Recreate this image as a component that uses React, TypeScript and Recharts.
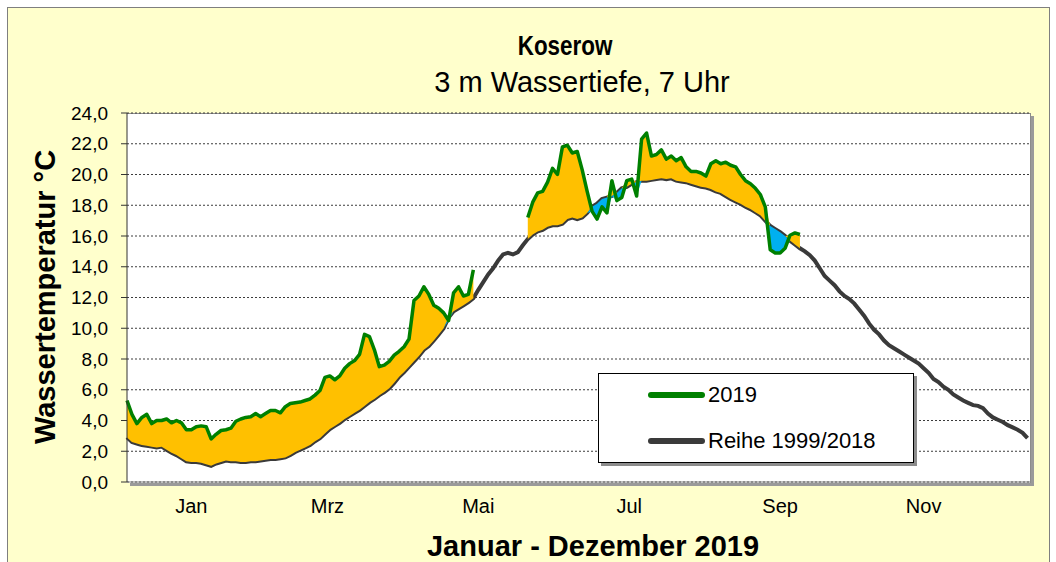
import {
  ComposedChart,
  Line,
  Area,
  XAxis,
  YAxis,
  CartesianGrid,
  Legend,
} from 'recharts';

// Tageswerte im 2-Tage-Raster (Index * 2 = Tag des Jahres)
const DAY_STEP = 2;

// Reihe 1999/2018, Wassertemperatur in °C
const meanTemps = [
  2.9, 2.6, 2.5, 2.4, 2.35, 2.3, 2.25, 2.3, 2.1, 1.9,
  1.75, 1.55, 1.35, 1.3, 1.3, 1.25, 1.15, 1.05, 1.2, 1.3,
  1.4, 1.35, 1.35, 1.3, 1.3, 1.35, 1.35, 1.4, 1.45, 1.5,
  1.5, 1.55, 1.6, 1.75, 1.95, 2.1, 2.25, 2.4, 2.65, 2.85,
  3.15, 3.45, 3.65, 3.85, 4.1, 4.3, 4.5, 4.7, 4.95, 5.2,
  5.4, 5.65, 5.85, 6.1, 6.45, 6.85, 7.15, 7.5, 7.85, 8.2,
  8.6, 8.85, 9.2, 9.6, 10.0, 10.7, 11.1, 11.3, 11.5, 11.7,
  11.95, 12.5, 13.0, 13.5, 13.9, 14.4, 14.8, 14.9, 14.8, 14.95,
  15.4, 15.8, 16.1, 16.3, 16.4, 16.6, 16.7, 16.7, 16.8, 17.1,
  17.2, 17.1, 17.2, 17.5, 17.9, 18.1, 18.4, 18.5, 18.6, 18.8,
  19.1, 19.2, 19.4, 19.5, 19.6, 19.6, 19.65, 19.7, 19.75, 19.7,
  19.75, 19.6, 19.55, 19.5, 19.4, 19.3, 19.2, 19.15, 19.05, 18.9,
  18.8, 18.6, 18.4, 18.25, 18.1, 17.9, 17.75, 17.55, 17.35, 17.0,
  16.65, 16.45, 16.25, 16.0, 15.7, 15.45, 15.2, 15.0, 14.75, 14.4,
  13.9, 13.4, 13.1, 12.8, 12.4, 12.1, 11.9, 11.6, 11.2, 10.8,
  10.3, 9.9, 9.6, 9.2, 8.9, 8.7, 8.5, 8.3, 8.1, 7.9,
  7.7, 7.4, 7.1, 6.7, 6.5, 6.2, 6.0, 5.7, 5.5, 5.3,
  5.15, 5.0, 4.95, 4.8, 4.45, 4.2, 4.05, 3.9, 3.7, 3.55,
  3.4, 3.2, 2.85,
];

// 2019, Wassertemperatur in °C (null = keine Messung)
const temps2019 = [
  5.3, 4.4, 3.8, 4.2, 4.4, 3.8, 4.0, 4.0, 4.1, 3.85,
  4.0, 3.85, 3.4, 3.4, 3.6, 3.65, 3.6, 2.8, 3.1, 3.35,
  3.4, 3.5, 3.95, 4.1, 4.2, 4.25, 4.45, 4.25, 4.45, 4.65,
  4.65, 4.5, 4.9, 5.1, 5.15, 5.2, 5.3, 5.4, 5.65, 5.95,
  6.8, 6.9, 6.65, 6.9, 7.4, 7.7, 7.9, 8.3, 9.6, 9.45,
  8.6, 7.5, 7.6, 7.85, 8.25, 8.5, 8.8, 9.3, 11.8, 12.1,
  12.7, 12.2, 11.5, 11.3, 11.0, 10.5, 12.3, 12.7, 12.1, 12.2,
  13.8, null, null, null, null, null, null, null, null, null,
  null, 17.2, 18.2, 18.8, 18.9, 19.5, 20.4, 20.0, 21.8, 21.9,
  21.4, 21.5, 20.3, 18.9, 17.6, 17.1, 17.9, 17.5, 19.6, 18.3,
  18.5, 19.6, 19.7, 18.6, 22.3, 22.7, 21.2, 21.3, 21.6, 21.0,
  21.2, 20.9, 21.1, 20.5, 20.2, 20.2, 20.1, 19.9, 20.7, 20.9,
  20.7, 20.8, 20.6, 20.5, 20.0, 19.6, 19.4, 19.1, 18.7, 17.9,
  15.1, 14.9, 14.9, 15.2, 16.05, 16.2, 16.1,
];

const monthTickDays = [26, 81, 142, 203, 264, 322];
const monthLabels = ['Jan', 'Mrz', 'Mai', 'Jul', 'Sep', 'Nov'];
const yTicks = [0, 2, 4, 6, 8, 10, 12, 14, 16, 18, 20, 22, 24];

const FONT = "'Liberation Sans', Arial, sans-serif";

const chartData = meanTemps.map((mean, i) => {
  const v = temps2019[i] ?? null;
  return {
    day: i * DAY_STEP,
    mean,
    t2019: v,
    above: v == null ? null : [mean, Math.max(mean, v)],
    below: v == null ? null : [Math.min(mean, v), mean],
  };
});

function LegendBox() {
  const row = (color: string, label: string, top: number) => (
    <div style={{ position: 'absolute', left: 0, top, height: 26, width: '100%' }}>
      <div
        style={{
          position: 'absolute',
          left: 49,
          top: 10,
          width: 57,
          height: 6,
          borderRadius: 3,
          background: color,
        }}
      />
      <span style={{ position: 'absolute', left: 109, top: 0, lineHeight: '26px' }}>{label}</span>
    </div>
  );
  return (
    <div
      style={{
        position: 'relative',
        width: 314,
        height: 88,
        background: '#fff',
        border: '1px solid #000',
        boxShadow: '3px 3px 0 #8c8c8c',
        fontFamily: FONT,
        fontSize: 22,
        color: '#000',
      }}
    >
      {row('#008000', '2019', 8)}
      {row('#3a3a3a', 'Reihe 1999/2018', 54)}
    </div>
  );
}

export default function App() {
  return (
    <div
      style={{
        position: 'absolute',
        left: 0,
        top: 0,
        width: 1056,
        height: 562,
        overflow: 'hidden',
        background: '#fff',
        fontFamily: FONT,
      }}
    >
      <div
        style={{
          position: 'absolute',
          left: 7,
          top: 7,
          width: 1041,
          height: 600,
          background: '#FFFFCC',
          border: '1px solid #7f7f7f',
        }}
      />
      <div
        style={{
          position: 'absolute',
          left: 127,
          top: 113,
          width: 903,
          height: 369,
          background: '#fff',
          borderTop: '1px solid #8c8c8c',
          borderRight: '1px solid #8c8c8c',
          boxShadow: '3px 3px 0 #9a9a9a',
        }}
      />
      <div
        style={{
          position: 'absolute',
          left: 365,
          width: 400,
          top: 32,
          textAlign: 'center',
          fontSize: 28,
          fontWeight: 'bold',
          lineHeight: 1,
          transform: 'scaleX(0.8)',
        }}
      >
        Koserow
      </div>
      <div
        style={{
          position: 'absolute',
          left: 332,
          width: 500,
          top: 68,
          textAlign: 'center',
          fontSize: 29,
          lineHeight: 1,
        }}
      >
        3 m Wassertiefe, 7 Uhr
      </div>
      <div
        style={{
          position: 'absolute',
          left: 45 - 200,
          top: 297 - 15,
          width: 400,
          height: 30,
          textAlign: 'center',
          fontSize: 29,
          fontWeight: 'bold',
          lineHeight: '30px',
          transform: 'rotate(-90deg)',
        }}
      >
        Wassertemperatur °C
      </div>
      <div
        style={{
          position: 'absolute',
          left: 593 - 250,
          top: 546 - 15,
          width: 500,
          textAlign: 'center',
          fontSize: 29,
          fontWeight: 'bold',
          lineHeight: '30px',
        }}
      >
        Januar - Dezember 2019
      </div>
      <div style={{ position: 'absolute', left: 0, top: 0 }}>
        <ComposedChart
          width={1056}
          height={562}
          data={chartData}
          margin={{ top: 113, right: 26, bottom: 40, left: 0 }}
        >
          <CartesianGrid
            vertical={false}
            horizontal
            stroke="#3c3c3c"
            strokeDasharray="2 2"
          />
          <XAxis
            dataKey="day"
            type="number"
            domain={[0, 365]}
            ticks={monthTickDays}
            tickFormatter={(d: number) => monthLabels[monthTickDays.indexOf(d)] ?? ''}
            tickLine={false}
            axisLine={{ stroke: '#7f7f7f' }}
            height={40}
            tickMargin={11}
            tick={{ fill: '#000', fontSize: 20, fontFamily: FONT }}
            interval={0}
          />
          <YAxis
            type="number"
            domain={[0, 24]}
            ticks={yTicks}
            tickFormatter={(v: number) => v.toFixed(1).replace('.', ',')}
            width={127}
            tickSize={6}
            tickMargin={13}
            axisLine={{ stroke: '#333' }}
            tickLine={{ stroke: '#333' }}
            tick={{ fill: '#000', fontSize: 19, fontFamily: FONT }}
            interval={0}
          />
          <Area
            dataKey="mean"
            name="Reihe 1999/2018"
            type="linear"
            stroke="#3a3a3a"
            strokeWidth={4}
            fill="none"
            fillOpacity={0}
            isAnimationActive={false}
            legendType="line"
          />
          <Area
            dataKey="above"
            type="linear"
            fill="#FFC000"
            fillOpacity={1}
            stroke="none"
            isAnimationActive={false}
            legendType="none"
          />
          <Area
            dataKey="below"
            type="linear"
            fill="#00B0F0"
            fillOpacity={1}
            stroke="none"
            isAnimationActive={false}
            legendType="none"
          />
          <Line
            dataKey="t2019"
            name="2019"
            type="linear"
            stroke="#008000"
            strokeWidth={3.5}
            strokeLinejoin="round"
            dot={false}
            isAnimationActive={false}
            legendType="line"
          />
          <Legend
            layout="vertical"
            align="center"
            verticalAlign="middle"
            content={() => <LegendBox />}
            wrapperStyle={{ left: 598, top: 373, width: 318, height: 92 }}
          />
        </ComposedChart>
      </div>
    </div>
  );
}
